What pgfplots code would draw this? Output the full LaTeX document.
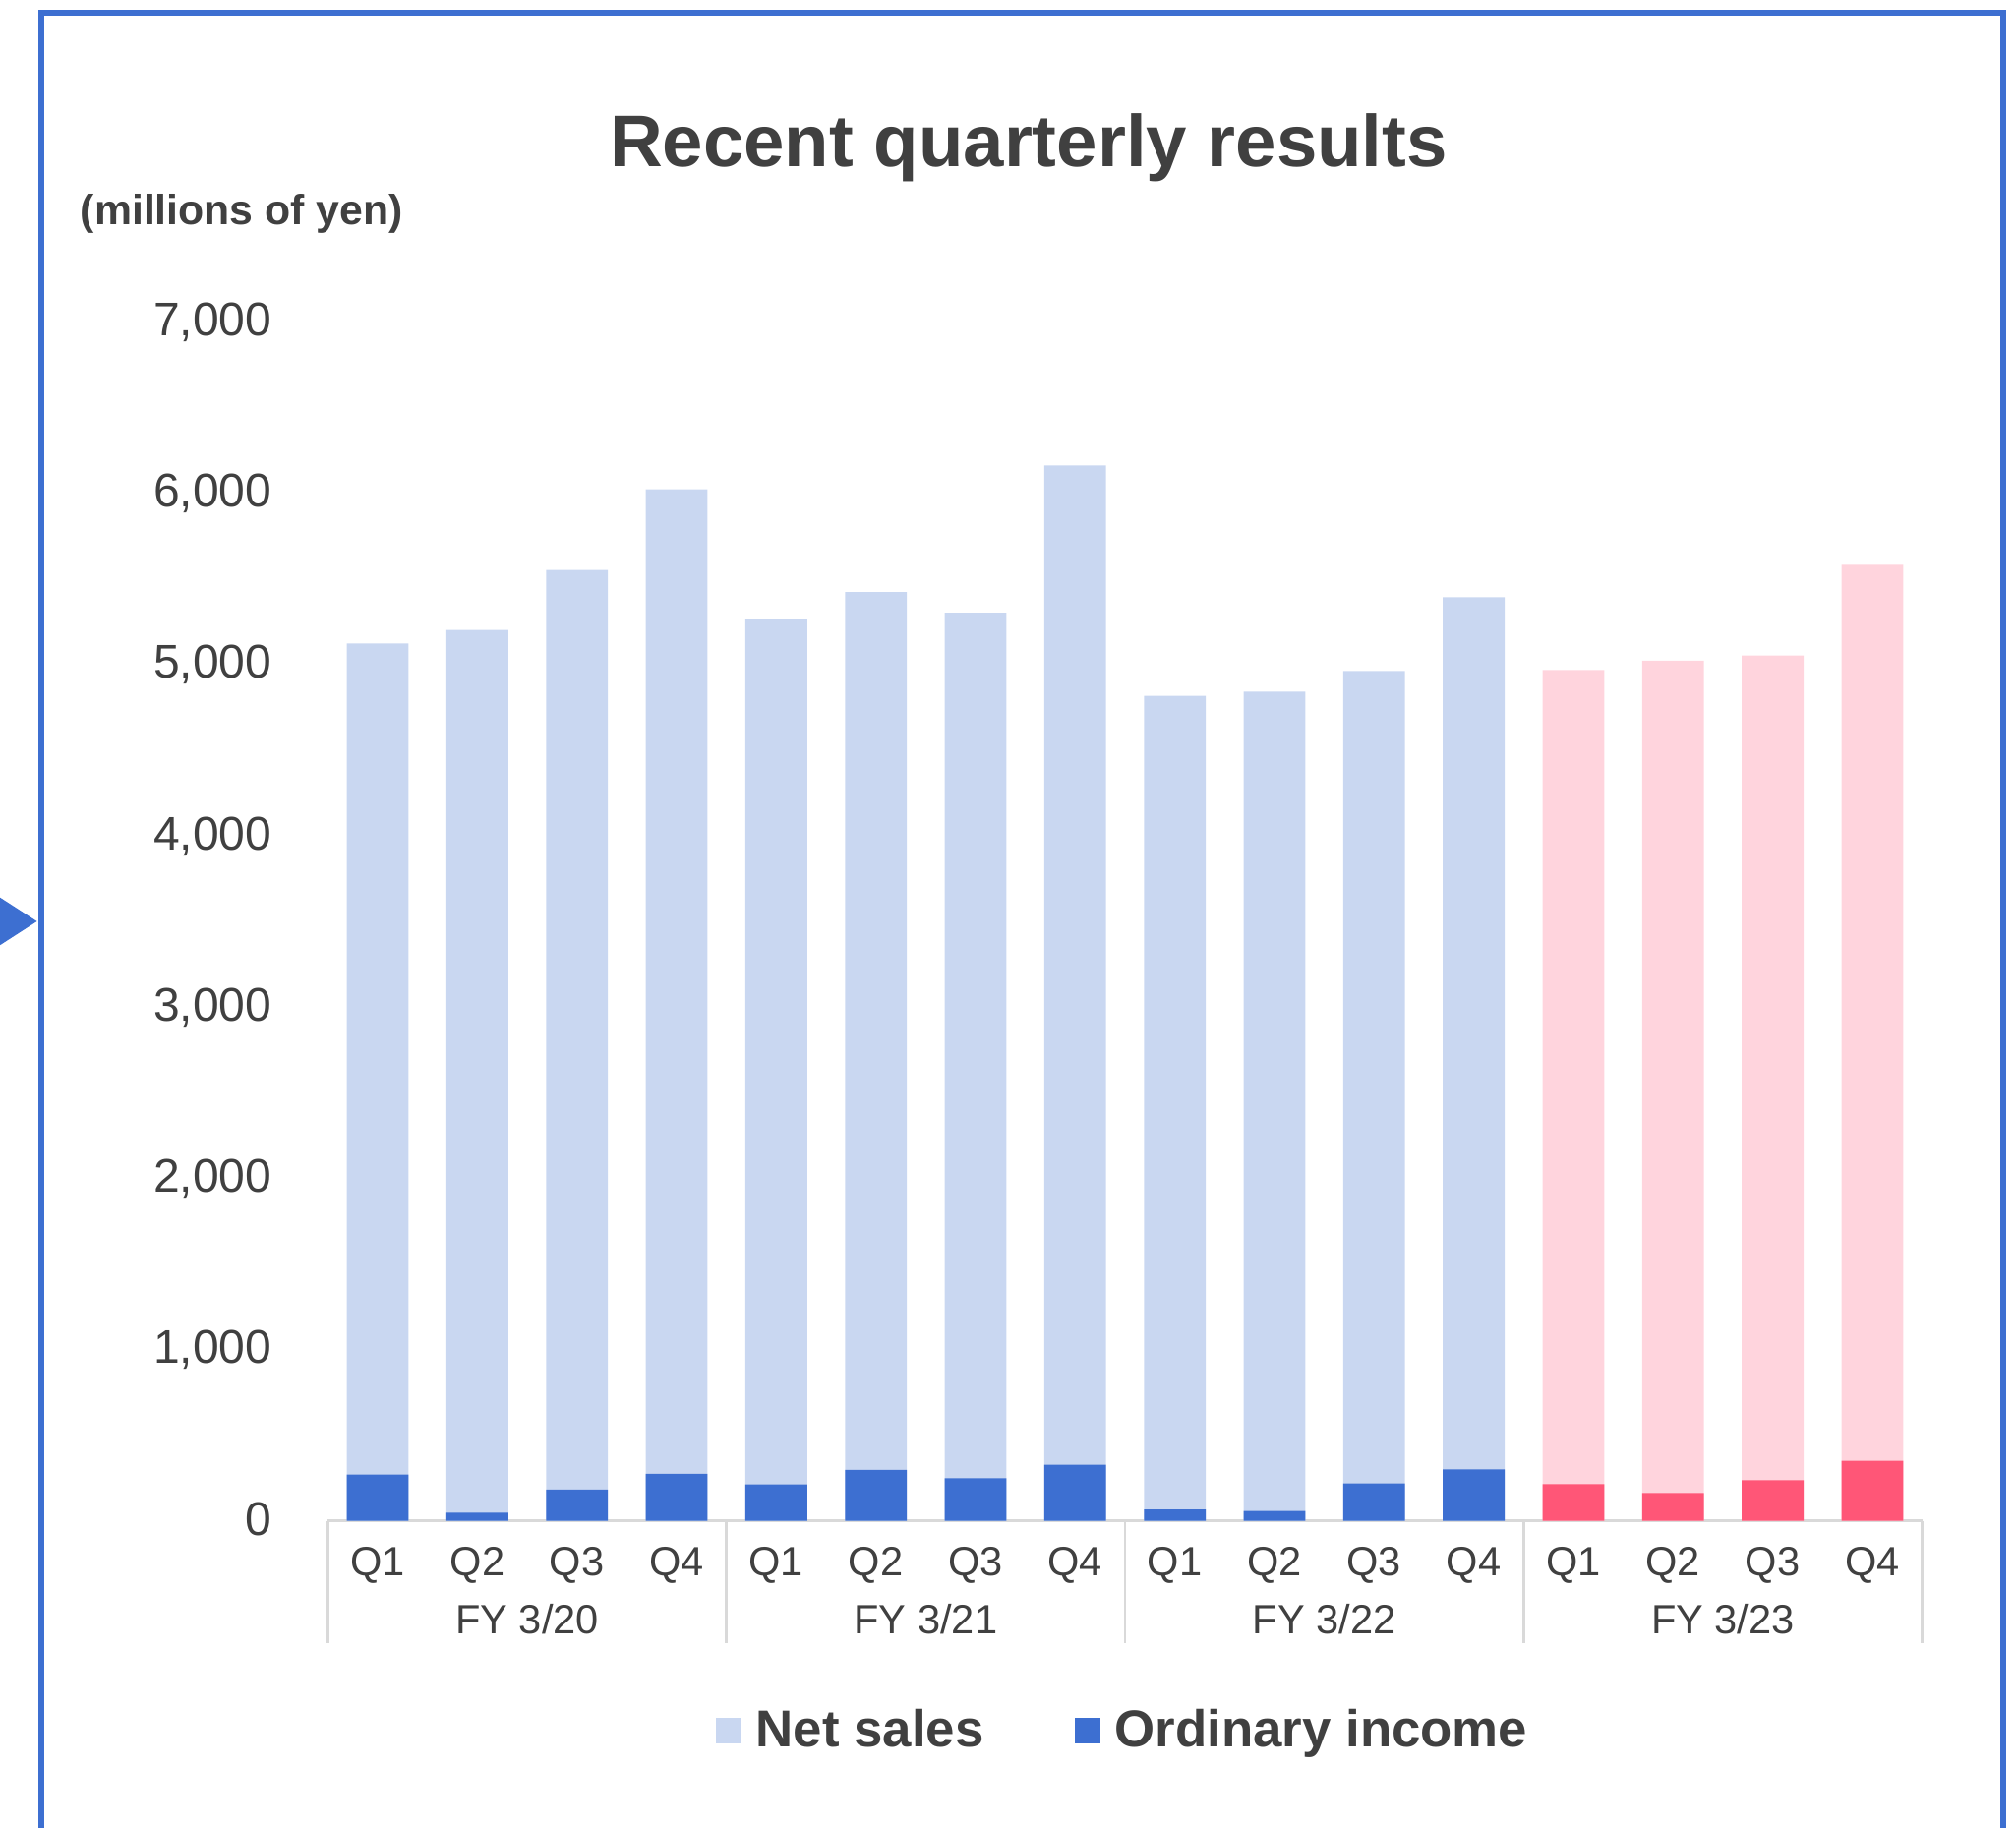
\documentclass[border=0pt]{standalone}
\usepackage{pgfplots}
\pgfplotsset{compat=1.18}
\usepackage{fontspec}
\setmainfont{Liberation Sans}
\definecolor{frameblue}{HTML}{3D6FD1}
\definecolor{salesblue}{HTML}{C9D7F1}
\definecolor{incblue}{HTML}{3D6FD1}
\definecolor{salespink}{HTML}{FFD4DD}
\definecolor{incpink}{HTML}{FF5677}
\definecolor{txt}{HTML}{404040}
\definecolor{axgray}{HTML}{D9D9D9}
\begin{document}
\begin{tikzpicture}
\useasboundingbox (0,0) rectangle (512.5pt,464.75pt);
% frame
\draw[frameblue, line width=1.4pt] (10.45pt,-5pt) -- (10.45pt,461.5pt) -- (509.25pt,461.5pt) -- (509.25pt,-5pt);
\fill[frameblue] (-3pt,238.5pt) -- (9.4pt,230.5pt) -- (-3pt,222.5pt) -- cycle;
% title
\node[anchor=base, text=txt, font=\fontsize{18.6}{22}\selectfont\bfseries] at (261.5pt,422.25pt) {Recent quarterly results};
\node[anchor=base west, inner sep=0pt, text=txt, font=\fontsize{10.7}{13}\selectfont\bfseries] at (20.25pt,407.5pt) {(millions of yen)};
\begin{axis}[
  at={(83.35pt,78.075pt)}, anchor=south west,
  width=405.3pt, height=304.95pt, scale only axis,
  xmin=-0.5, xmax=15.5, ymin=0, ymax=7000,
  clip=false,
  axis lines*=left,
  y axis line style={draw=none},
  x axis line style={draw=axgray, line width=0.7pt},
  tick style={draw=none},
  ybar, bar width=15.7pt, bar shift=0pt,
  xtick={0,...,15},
  xticklabels={Q1,Q2,Q3,Q4,Q1,Q2,Q3,Q4,Q1,Q2,Q3,Q4,Q1,Q2,Q3,Q4},
  xticklabel style={anchor=base, inner sep=0pt, yshift=-9.6pt, text=txt, font=\fontsize{10.4}{12}\selectfont},
  ytick={0,1000,2000,3000,4000,5000,6000,7000},
  yticklabels={0,{1,000},{2,000},{3,000},{4,000},{5,000},{6,000},{7,000}},
  yticklabel style={anchor=base east, inner sep=0pt, xshift=-14.1pt, yshift=-0.36em, text=txt, font=\fontsize{12}{14}\selectfont},
  /pgf/number format/assume math mode=true,
  legend columns=2,
  legend style={at={(0.5,-0.175)}, anchor=center, draw=none, fill=none,
    font=\fontsize{13.2}{16}\selectfont\bfseries, text=txt,
    /tikz/every even column/.append style={column sep=21.6pt},
    nodes={inner sep=1.6pt}},
  legend image code/.code={\fill[#1] (0pt,-3.25pt) rectangle (6.5pt,3.25pt); \path (8.5pt,0pt);},
]
\addplot[fill=salesblue, draw=none] coordinates {(0,5120) (1,5200) (2,5550) (3,6020) (4,5260) (5,5420) (6,5300) (7,6160) (8,4815) (9,4840) (10,4960) (11,5390)};
\addlegendentry{Net sales}
\addplot[fill=incblue, draw=none] coordinates {(0,270) (1,48) (2,182) (3,274) (4,212) (5,297) (6,249) (7,328) (8,66) (9,58) (10,218) (11,300)};
\addlegendentry{Ordinary income}
\addplot[fill=salespink, draw=none, forget plot] coordinates {(12,4965) (13,5020) (14,5050) (15,5580)};
\addplot[fill=incpink, draw=none, forget plot] coordinates {(12,214) (13,162) (14,237) (15,350)};
\pgfplotsinvokeforeach{-0.5,3.5,7.5,11.5,15.5}{
  \draw[axgray, line width=0.7pt] (axis cs:#1,0) -- ([yshift=-31pt]axis cs:#1,0);
}
\node[anchor=base, text=txt, font=\fontsize{10.4}{12}\selectfont] at ([yshift=-28.75pt]axis cs:1.5,0) {FY 3/20};
\node[anchor=base, text=txt, font=\fontsize{10.4}{12}\selectfont] at ([yshift=-28.75pt]axis cs:5.5,0) {FY 3/21};
\node[anchor=base, text=txt, font=\fontsize{10.4}{12}\selectfont] at ([yshift=-28.75pt]axis cs:9.5,0) {FY 3/22};
\node[anchor=base, text=txt, font=\fontsize{10.4}{12}\selectfont] at ([yshift=-28.75pt]axis cs:13.5,0) {FY 3/23};
\end{axis}
\end{tikzpicture}
\end{document}
